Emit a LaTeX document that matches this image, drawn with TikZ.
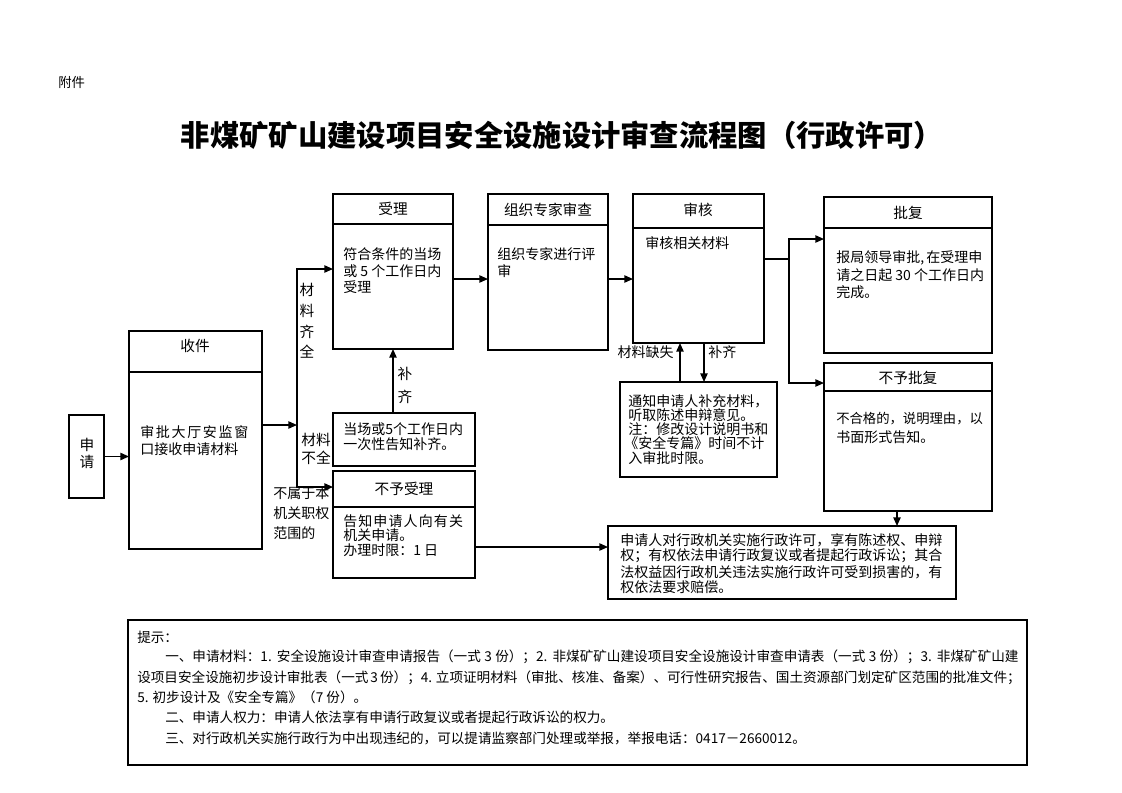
\documentclass[tikz,border=0pt]{standalone}
\usepackage{fontspec}
\setmainfont{Noto Sans CJK SC}
\usetikzlibrary{arrows.meta}
\XeTeXlinebreaklocale "zh"
\XeTeXlinebreakskip=0pt plus 3pt
\hbadness=10000
\newcommand\mybox[5]{\node[boxst, minimum width={(#4-#2)*0.75pt}, minimum height={(#5-#3)*0.75pt}] (#1) at ({(#2+#4)/2},{(#3+#5)/2}) {};}
\newcommand\mydiv[3][1pt]{\draw[line width=#1] (#2.west |- 0,#3) -- (#2.east |- 0,#3);}
\newcommand\myline[4]{\node[tl] (#1) at (#2,#3) {#4};}
\newcommand\myttl[4]{\node[tt] (#1) at (#2,#3) {#4};}
\begin{document}
\begin{tikzpicture}[x=0.75pt,y=-0.75pt,
  boxst/.style={draw, line width=1pt, inner sep=0pt, outer sep=0pt},
  ln/.style={line width=1.1pt},
  arr/.style={line width=1.1pt, -{Triangle[length=6.5pt,width=5.5pt]}},
  tl/.style={anchor=west, inner sep=0pt, font=\fontsize{10.5}{12}\selectfont},
  tt/.style={inner sep=0pt, font=\fontsize{11}{13}\selectfont},
  hint/.style={tl, font=\fontsize{10.2}{12}\selectfont}]
\useasboundingbox (0,0) rectangle (1122,793);

% header
\node[tl, font=\fontsize{10}{12}\selectfont] (fj) at (58,82) {附件};
\node[inner sep=0pt, font=\bfseries\fontsize{22}{26}\selectfont] (title) at (562,135) {非煤矿矿山建设项目安全设施设计审查流程图（行政许可）};

% boxes
\mybox{sq}{69}{415}{104}{498}
\mybox{sj}{129}{331}{262}{549}
\mydiv[2pt]{sj}{372}
\mybox{sl}{333}{194}{453}{349}
\mydiv{sl}{224}
\mybox{dc}{333}{413}{475}{466}
\mybox{bysl}{333}{471}{475}{578}
\mydiv{bysl}{507}
\mybox{zz}{488}{194}{608}{350}
\mydiv{zz}{225}
\mybox{sh}{633}{194}{764}{343}
\mydiv{sh}{228}
\mybox{tz}{620}{382}{777}{477}
\mybox{pf}{824}{197}{992}{353}
\mydiv{pf}{228}
\mybox{bypf}{824}{363}{992}{511}
\mydiv{bypf}{391}
\mybox{qy}{608}{526}{956}{599}
\mybox{ts}{128}{620}{1027}{765}

% titles
\myttl{sqa}{87}{445}{申}
\myttl{sqb}{87}{462}{请}
\myttl{sjt}{195}{346}{收件}
\myttl{slt}{393}{209}{受理}
\myttl{zzt}{548}{210}{组织专家审查}
\myttl{sht}{698}{210}{审核}
\myttl{pft}{908}{213}{批复}
\myttl{bypft}{908}{378}{不予批复}
\myttl{byslt}{404}{489}{不予受理}

% box texts
\myline{sj1}{140}{432}{\addfontfeature{LetterSpace=12}审批大厅安监窗}
\myline{sj2}{140}{449}{口接收申请材料}
\myline{sl1}{343}{254}{符合条件的当场}
\myline{sl2}{343}{271}{或 5 个工作日内}
\myline{sl3}{343}{287}{受理}
\myline{dc1}{343}{429}{当场或5个工作日内}
\myline{dc2}{343}{444}{一次性告知补齐。}
\myline{bs1}{343}{521}{\addfontfeature{LetterSpace=8}告知申请人向有关}
\myline{bs2}{343}{535}{机关申请。}
\myline{bs3}{343}{550}{办理时限：1 日}
\myline{zz1}{497}{254}{组织专家进行评}
\myline{zz2}{497}{271}{审}
\myline{sh1}{645}{243}{审核相关材料}
\myline{tz1}{628}{401}{通知申请人补充材料，}
\myline{tz2}{628}{415}{听取陈述申辩意见。}
\myline{tz3}{628}{429}{注：修改设计说明书和}
\myline{tz4}{624}{443}{《安全专篇》时间不计}
\myline{tz5}{628}{458}{入审批时限。}
\myline{pf1}{836}{258}{报局领导审批,\,在受理申}
\myline{pf2}{836}{275}{请之日起 30 个工作日内}
\myline{pf3}{836}{292}{完成。}
\node[tl, font=\fontsize{10}{12}\selectfont] (bp1) at (836,419) {不合格的，说明理由，以};
\myline{bp2}{836}{437}{书面形式告知。}
\myline{qy1}{620}{540}{\hbox to 244.5pt{申请人对行政机关实施行政许可，享有陈述权、申辩}}
\myline{qy2}{620}{556}{\hbox to 244.5pt{权；有权依法申请行政复议或者提起行政诉讼；其合}}
\myline{qy3}{620}{572}{\hbox to 244.5pt{法权益因行政机关违法实施行政许可受到损害的，有}}
\myline{qy4}{620}{587}{权依法要求赔偿。}

% hint text
\node[hint] (h0) at (137,637) {提示：};
\node[hint] (h1) at (165,657) {\hbox to 640pt{一、申请材料：1. 安全设施设计审查申请报告（一式 3 份）；2. 非煤矿矿山建设项目安全设施设计审查申请表（一式 3 份）；3. 非煤矿矿山建}};
\node[hint] (h2) at (137,678) {\hbox to 661pt{设项目安全设施初步设计审批表（一式 3 份）；4. 立项证明材料（审批、核准、备案）、可行性研究报告、国土资源部门划定矿区范围的批准文件；}};
\node[hint] (h3) at (137,697) {5. 初步设计及《安全专篇》（7 份）。};
\node[hint] (h4) at (165,717) {二、申请人权力：申请人依法享有申请行政复议或者提起行政诉讼的权力。};
\node[hint] (h5) at (165,738) {三、对行政机关实施行政行为中出现违纪的，可以提请监察部门处理或举报，举报电话：0417－2660012。};

% edge labels
\myttl{la1}{307}{290}{材}
\myttl{la2}{307}{311}{料}
\myttl{la3}{307}{332}{齐}
\myttl{la4}{307}{352}{全}
\myttl{lb1}{316}{440}{材料}
\myttl{lb2}{316}{458}{不全}
\myline{lc1}{273}{493}{不属于本}
\myline{lc2}{273}{513}{机关职权}
\myline{lc3}{273}{533}{范围的}
\myttl{ld1}{405}{374}{补}
\myttl{ld2}{405}{397}{齐}
\node[tl, anchor=east] (le) at (674,352) {材料缺失};
\myline{lf}{708}{352}{补齐}

% helper coordinates
\coordinate (tA) at (297,269);
\coordinate (tB) at (297,487);
\coordinate (tJ) at (297,425);
\coordinate (yR) at (0,279);
\coordinate (fA) at (789,239);
\coordinate (fB) at (789,383);
\coordinate (fM) at (789,259);
\coordinate (yK) at (0,547);
\coordinate (xM) at (897,0);
\coordinate (xU) at (680,0);
\coordinate (xD) at (704,0);
\coordinate (xB) at (393,0);

% connectors
\draw[arr] (sq.east) -- (sq.east -| sj.west);
\draw[arr] (sj.east |- tJ) -- (tJ);
\draw[arr] (tB) -- (tA) -- (tA -| sl.west);
\draw[arr] (tA) -- (tB) -- (tB -| bysl.west);
\draw[arr] (dc.north -| xB) -- (sl.south -| xB);
\draw[arr] (sl.east |- yR) -- (zz.west |- yR);
\draw[arr] (zz.east |- yR) -- (sh.west |- yR);
\draw[arr] (tz.north -| xU) -- (sh.south -| xU);
\draw[arr] (sh.south -| xD) -- (tz.north -| xD);
\draw[ln] (sh.east |- fM) -- (fM);
\draw[arr] (fB) -- (fA) -- (fA -| pf.west);
\draw[arr] (fA) -- (fB) -- (fB -| bypf.west);
\draw[arr] (bysl.east |- yK) -- (qy.west |- yK);
\draw[arr] (bypf.south -| xM) -- (qy.north -| xM);
\end{tikzpicture}
\end{document}
